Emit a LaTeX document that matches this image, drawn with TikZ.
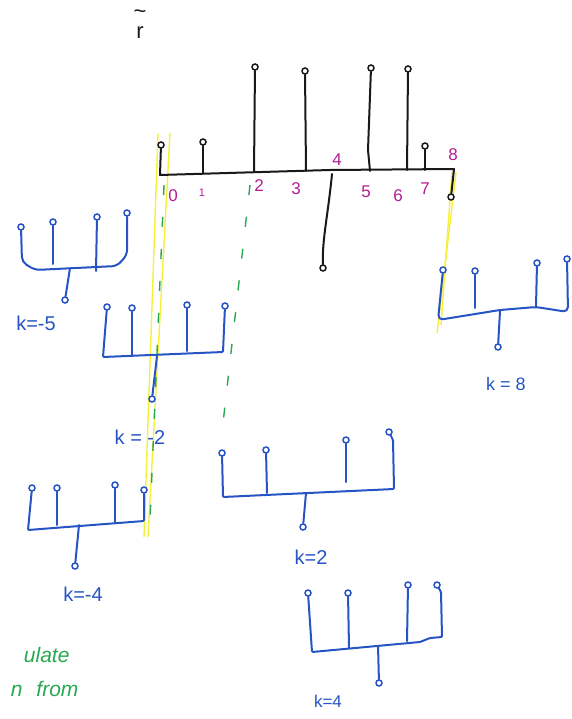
\documentclass[tikz,border=0pt]{standalone}
\usepackage{fontspec}
\setmainfont{Liberation Sans}
\usepackage{tikz}
\usetikzlibrary{positioning}
\definecolor{inkblack}{RGB}{25,25,25}
\definecolor{inkblue}{RGB}{38,84,196}
\definecolor{inkpink}{RGB}{178,28,148}
\definecolor{inkgreen}{RGB}{40,168,82}
\definecolor{hilite}{RGB}{246,240,60}

\begin{document}
\begin{tikzpicture}[x=1pt, y=-1pt,
  sig/.style={draw=inkblack, line width=2pt, line cap=round, line join=round},
  bsig/.style={sig, draw=inkblue, rounded corners=5pt},
  ktip/.style={circle, draw=inkblack, fill=white, line width=1.5pt, inner sep=0pt, minimum size=6pt},
  btip/.style={ktip, draw=inkblue},
  idx/.style={text=inkpink, font=\fontsize{17}{20}\selectfont},
  klab/.style={text=inkblue, font=\fontsize{20}{24}\selectfont},
  guide/.style={draw=inkgreen, line width=1.4pt, dash pattern=on 10pt off 22pt},
  marker/.style={draw=hilite, line width=1.4pt},
  note/.style={text=inkgreen, font=\fontsize{21}{24}\selectfont\itshape, anchor=base east}
]
\useasboundingbox (0,0) rectangle (571,719);

% highlighter and green guides
\draw[marker] (158,133) -- (144,537);
\draw[marker] (170,133) -- (148,537);
\draw[marker] (456,172) -- (437,333);
\draw[marker] (452,172) -- (441,325);
\draw[guide] (164,185) -- (150,520);
\draw[guide] (250,185) -- (222,432);

% top signal
\node[text=inkblack, align=center, inner sep=0pt, font=\fontsize{22}{20}\selectfont] (rt) at (140,24) {\textasciitilde\\r};
\node[ktip] (x0) at (161,145) {};
\node[ktip] (x1) at (203,142) {};
\node[ktip] (x2) at (255,67) {};
\node[ktip] (x3) at (305,71) {};
\node[ktip] (x4) at (323,268) {};
\node[ktip] (x5) at (371,68) {};
\node[ktip] (x6) at (408,69) {};
\node[ktip] (x7) at (425,146) {};
\node[ktip] (x8) at (451,197) {};
\draw[sig] (x0) -- (160,175) -- (330,170) -- (454,169) -- (x8);
\draw[sig] (x1) -- (203,173);
\draw[sig] (x2) -- (254,172);
\draw[sig] (x3) -- (306,171);
\draw[sig] (332,174) .. controls (328,215) and (322,240) .. (x4);
\draw[sig] (x5) -- (368,150) -- (370,171);
\draw[sig] (x6) -- (407,170);
\draw[sig] (x7) -- (425,170);

\node[idx] (n0) at (173,196) {0};
\node[idx, font=\fontsize{11}{13}\selectfont] (n1) at (202,193) {1};
\node[idx] (n2) at (259,186) {2};
\node[idx] (n3) at (296,189) {3};
\node[idx] (n4) at (337,160) {4};
\node[idx] (n5) at (366,192) {5};
\node[idx] (n6) at (398,196) {6};
\node[idx] (n7) at (425,189) {7};
\node[idx] (n8) at (453,155) {8};

% k = -5
\node[btip] (s5a) at (21,227) {};
\node[btip] (s5b) at (53,222) {};
\node[btip] (s5c) at (97,217) {};
\node[btip] (s5d) at (127,213) {};
\node[btip] (s5o) at (65,300) {};
\draw[bsig] (s5a) -- (22,262) -- (35,270) -- (117,266) -- (127,255) -- (s5d);
\draw[bsig] (s5b) -- (53,264);
\draw[bsig] (s5c) -- (96,271);
\draw[bsig] (70,268) -- (s5o);
\node[klab] (l5) at (36,323) {k=-5};

% k = -2
\node[btip] (s2a) at (107,307) {};
\node[btip] (s2b) at (132,308) {};
\node[btip] (s2c) at (187,305) {};
\node[btip] (s2d) at (225,306) {};
\node[btip] (s2o) at (152,399) {};
\draw[bsig, rounded corners=1pt] (s2a) -- (103,357) -- (223,352) -- (s2d);
\draw[bsig] (s2b) -- (132,356);
\draw[bsig] (s2c) -- (187,351);
\draw[bsig] (157,356) -- (s2o);
\node[klab] (l2) at (140,437) {k = -2};

% k = -4
\node[btip] (s4a) at (32,488) {};
\node[btip] (s4b) at (57,488) {};
\node[btip] (s4c) at (115,485) {};
\node[btip] (s4d) at (144,490) {};
\node[btip] (s4o) at (75,566) {};
\draw[bsig, rounded corners=1pt] (s4a) -- (28,530) -- (144,521) -- (s4d);
\draw[bsig] (s4b) -- (57,525);
\draw[bsig] (s4c) -- (115,522);
\draw[bsig] (79,525) -- (s4o);
\node[klab] (l4) at (83,594) {k=-4};

% k = 2
\node[btip] (p2a) at (222,453) {};
\node[btip] (p2b) at (266,450) {};
\node[btip] (p2c) at (346,440) {};
\node[btip] (p2d) at (389,432) {};
\node[btip] (p2o) at (303,527) {};
\draw[bsig, rounded corners=1pt] (p2a) -- (223,497) -- (394,489) -- (393,440) -- (p2d);
\draw[bsig] (p2b) -- (267,493);
\draw[bsig] (p2c) -- (346,482);
\draw[bsig] (306,493) -- (p2o);
\node[klab] (q2) at (311,557) {k=2};

% k = 4
\node[btip] (p4a) at (308,593) {};
\node[btip] (p4b) at (348,593) {};
\node[btip] (p4c) at (408,585) {};
\node[btip] (p4d) at (437,585) {};
\node[btip] (p4o) at (379,683) {};
\draw[bsig, rounded corners=1pt] (p4a) -- (312,652) -- (420,642) -- (430,638) -- (442,637) -- (441,592) -- (p4d);
\draw[bsig] (p4b) -- (349,648);
\draw[bsig] (p4c) -- (407,641);
\draw[bsig] (378,646) -- (p4o);
\node[klab, font=\fontsize{17}{20}\selectfont] (q4) at (328,701) {k=4};

% k = 8
\node[btip] (p8a) at (443,270) {};
\node[btip] (p8b) at (475,271) {};
\node[btip] (p8c) at (537,263) {};
\node[btip] (p8d) at (567,259) {};
\node[btip] (p8o) at (498,347) {};
\draw[bsig] (p8a) -- (438,320) -- (500,310) -- (536,307) -- (568,312) -- (p8d);
\draw[bsig] (p8b) -- (475,308);
\draw[bsig] (p8c) -- (536,307);
\draw[bsig] (500,311) -- (p8o);
\node[klab, font=\fontsize{18}{21}\selectfont] (q8) at (506,384) {k = 8};

% notes
\node[note] (t1) at (73,662) {ulate};
\node[note] (t2) at (82,696) {n\hspace{14pt}from};
\end{tikzpicture}
\end{document}
